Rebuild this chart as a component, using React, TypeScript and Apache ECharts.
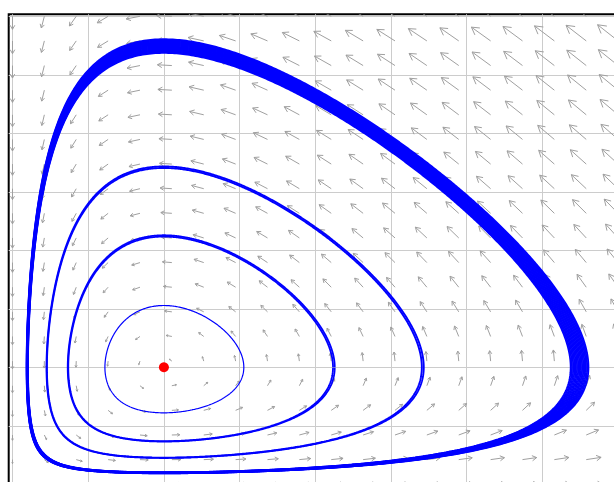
import React, { useEffect, useRef } from "react";
import * as echarts from "echarts";

// Normalised Lotka–Volterra system, prey x on the horizontal axis, predators y on the vertical:
//   x' = a·x·(1 − y),   y' = c·y·(x − 1)
const preyRate = 1; // a
const predatorRate = 1; // c
const equilibrium: [number, number] = [1, 1];

// Sample points of the direction field (20 values from 0 to 4 on each axis)
const fieldX = [
  0, 0.2105, 0.4211, 0.6316, 0.8421, 1.0526, 1.2632, 1.4737, 1.6842, 1.8947,
  2.1053, 2.3158, 2.5263, 2.7368, 2.9474, 3.1579, 3.3684, 3.5789, 3.7895, 4,
];
const fieldY = [
  0, 0.2105, 0.4211, 0.6316, 0.8421, 1.0526, 1.2632, 1.4737, 1.6842, 1.8947,
  2.1053, 2.3158, 2.5263, 2.7368, 2.9474, 3.1579, 3.3684, 3.5789, 3.7895, 4,
];

// Closed orbits, labelled by the conserved quantity H = c(x − ln x) + a(y − ln y)
const orbitLevels = [2.104, 2.37, 2.713];
const orbitSpread = [0, 0.006, 0.008];
const orbitWidth = [1.2, 1.8, 1.9];

// Outermost orbit, drawn as a band between two levels of H
const bandLevels = [3.382, 3.468];

// Axis ranges and grid spacing
const axisX = [-0.025, 4.025];
const axisY = [-0.05, 4.017];
const gridStep = 0.5;

// Arrow appearance (length grows as speed^0.4)
const ARROW_SCALE = 0.064;
const ARROW_POWER = 0.4;
const HEAD_RATIO = 0.36;
const HEAD_ANGLE = (30 * Math.PI) / 180;

const invariant = (x: number, y: number) =>
  predatorRate * (x - Math.log(x)) + preyRate * (y - Math.log(y));

const velocity = (x: number, y: number): [number, number] => [
  preyRate * x * (1 - y),
  predatorRate * y * (x - 1),
];

// Trace the level set H = level by bisection along rays from the equilibrium
function levelCurve(level: number, samples = 1440): number[][] {
  const pts: number[][] = [];
  const [ex, ey] = equilibrium;
  for (let i = 0; i <= samples; i++) {
    const t = (i / samples) * 2 * Math.PI;
    const dx = Math.cos(t);
    const dy = Math.sin(t);
    let hi = 50;
    if (dx < -1e-12) hi = Math.min(hi, -ex / dx);
    if (dy < -1e-12) hi = Math.min(hi, -ey / dy);
    hi *= 0.999999999;
    let lo = 0;
    for (let k = 0; k < 60; k++) {
      const mid = (lo + hi) / 2;
      if (invariant(ex + mid * dx, ey + mid * dy) < level) lo = mid;
      else hi = mid;
    }
    pts.push([ex + lo * dx, ey + lo * dy]);
  }
  return pts;
}

function buildArrowData(): number[][] {
  const data: number[][] = [];
  for (const x of fieldX) {
    for (const y of fieldY) {
      const [u, v] = velocity(x, y);
      const m = Math.sqrt(u * u + v * v);
      const k = m > 0 ? ARROW_SCALE * Math.pow(m, ARROW_POWER - 1) : 0;
      data.push([x, y, u * k, v * k]);
    }
  }
  return data;
}

export default function App() {
  const ref = useRef<HTMLDivElement>(null);

  useEffect(() => {
    if (!ref.current) return;
    const chart = echarts.init(ref.current, undefined, { renderer: "svg" });

    const orbitSeries: any[] = [];
    orbitLevels.forEach((lvl, i) => {
      const s = orbitSpread[i];
      const levels = s > 0 ? [lvl - s / 2, lvl + s / 2] : [lvl];
      levels.forEach((L) => {
        orbitSeries.push({
          type: "line",
          data: levelCurve(L),
          showSymbol: false,
          symbol: "none",
          silent: true,
          z: 3,
          lineStyle: { color: "#0000ff", width: orbitWidth[i] },
        });
      });
    });

    const bandCount = 15;
    for (let j = 0; j < bandCount; j++) {
      const L = bandLevels[0] + ((bandLevels[1] - bandLevels[0]) * j) / (bandCount - 1);
      orbitSeries.push({
        type: "line",
        data: levelCurve(L, 1200),
        showSymbol: false,
        symbol: "none",
        silent: true,
        z: 3,
        lineStyle: { color: "#0000ff", width: 1.8 },
      });
    }

    const axisCommon = {
      type: "value",
      minInterval: gridStep,
      maxInterval: gridStep,
      axisLine: { show: false },
      axisTick: { show: false },
      axisLabel: { show: false },
      splitLine: {
        show: true,
        showMinLine: false,
        showMaxLine: false,
        lineStyle: { color: "#cccccc", width: 1 },
      },
    };

    const option: any = {
      animation: false,
      grid: {
        left: 8.7,
        top: 14.3,
        width: 613.2,
        height: 475.8,
        show: true,
        borderColor: "#000000",
        borderWidth: 2,
        backgroundColor: "transparent",
        containLabel: false,
        outerBoundsMode: "none",
      },
      xAxis: { ...axisCommon, min: axisX[0], max: axisX[1] },
      yAxis: { ...axisCommon, min: axisY[0], max: axisY[1] },
      series: [
        {
          type: "custom",
          coordinateSystem: "cartesian2d",
          clip: true,
          silent: true,
          z: 2,
          encode: { x: 0, y: 1 },
          data: buildArrowData(),
          renderItem: (_params: any, api: any) => {
            const x = api.value(0);
            const y = api.value(1);
            const u = api.value(2);
            const v = api.value(3);
            const tail = api.coord([x, y]);
            const tip = api.coord([x + u, y + v]);
            const dx = tip[0] - tail[0];
            const dy = tip[1] - tail[1];
            const len = Math.sqrt(dx * dx + dy * dy);
            const hl = len * HEAD_RATIO;
            const ang = Math.atan2(dy, dx);
            const h1 = [tip[0] - hl * Math.cos(ang - HEAD_ANGLE), tip[1] - hl * Math.sin(ang - HEAD_ANGLE)];
            const h2 = [tip[0] - hl * Math.cos(ang + HEAD_ANGLE), tip[1] - hl * Math.sin(ang + HEAD_ANGLE)];
            const style = { stroke: "#a0a0a0", lineWidth: 1, fill: null };
            return {
              type: "group",
              children: [
                { type: "polyline", shape: { points: [tail, tip] }, style },
                { type: "polyline", shape: { points: [h1, tip, h2] }, style },
              ],
            };
          },
        },
        ...orbitSeries,
        {
          type: "scatter",
          data: [equilibrium],
          symbol: "circle",
          symbolSize: 10,
          silent: true,
          z: 5,
          itemStyle: { color: "#ff0000", opacity: 1 },
        },
      ],
    };

    chart.setOption(option);
    return () => chart.dispose();
  }, []);

  return (
    <div
      style={{
        position: "fixed",
        left: 0,
        top: 0,
        width: 614,
        height: 482,
        overflow: "hidden",
        background: "#ffffff",
      }}
    >
      <div ref={ref} style={{ width: 640, height: 500 }} />
    </div>
  );
}
